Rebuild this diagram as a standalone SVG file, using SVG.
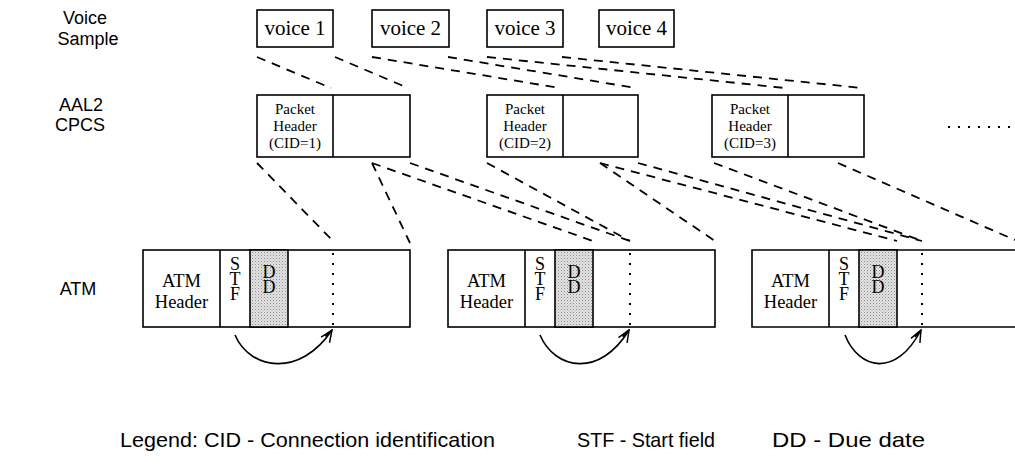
<svg xmlns="http://www.w3.org/2000/svg" width="1015" height="466" viewBox="0 0 1015 466">
  <defs>
    <pattern id="stipple" width="3" height="3" patternUnits="userSpaceOnUse">
      <rect width="3" height="3" fill="#e4e4e4"/>
      <rect x="0" y="0" width="1" height="1" fill="#8a8a8a"/>
      <rect x="1.5" y="1.5" width="1" height="1" fill="#a8a8a8"/>
    </pattern>
    <marker id="openhead" viewBox="0 0 14 12" refX="13" refY="6" markerWidth="14" markerHeight="12" markerUnits="userSpaceOnUse" orient="auto">
      <path d="M1,1 L13,6 L1,11 M4,4 L13,6" fill="none" stroke="#000" stroke-width="1.5"/>
    </marker>
  </defs>
  <style>
    .box { fill: #fff; stroke: #000; stroke-width: 1.6; }
    .div { stroke: #000; stroke-width: 1.6; fill: none; }
    .dd { fill: url(#stipple); stroke: #000; stroke-width: 1.6; }
    .dots { stroke: #000; stroke-width: 2; stroke-dasharray: 2 8; fill: none; }
    .dash { stroke: #000; stroke-width: 1.8; stroke-dasharray: 9 7; fill: none; }
    .arc { stroke: #000; stroke-width: 1.6; fill: none; }
    .lbl { font-family: "Liberation Sans", Arial, sans-serif; font-size: 18px; fill: #000; text-anchor: middle; }
    .leg { font-family: "Liberation Sans", Arial, sans-serif; font-size: 21px; fill: #000; }
    .vt { font-family: "Liberation Serif", "Times New Roman", serif; font-size: 21px; fill: #000; text-anchor: middle; }
    .pt { font-family: "Liberation Serif", "Times New Roman", serif; font-size: 15px; fill: #000; text-anchor: middle; }
    .at { font-family: "Liberation Serif", "Times New Roman", serif; font-size: 18.5px; fill: #000; text-anchor: middle; }
    /* stacked letters in the narrow STF and DD fields */
    .st { font-family: "Liberation Serif", "Times New Roman", serif; font-size: 18px; fill: #000;
          writing-mode: vertical-rl; text-orientation: upright; letter-spacing: -5px; }
  </style>

  <!-- row labels -->
  <g id="row-labels">
    <text class="lbl" x="85" y="24">Voice</text>
    <text class="lbl" x="88" y="45">Sample</text>
    <text class="lbl" x="81" y="111">AAL2</text>
    <text class="lbl" x="80" y="131">CPCS</text>
    <text class="lbl" x="78" y="295">ATM</text>
  </g>

  <!-- voice samples -->
  <g id="voice-1"><rect class="box" x="257" y="10" width="76" height="37"/><text class="vt" x="295" y="35">voice 1</text></g>
  <g id="voice-2"><rect class="box" x="372" y="10" width="77" height="37"/><text class="vt" x="410.5" y="35">voice 2</text></g>
  <g id="voice-3"><rect class="box" x="487" y="10" width="76" height="37"/><text class="vt" x="525" y="35">voice 3</text></g>
  <g id="voice-4"><rect class="box" x="599" y="10" width="75" height="37"/><text class="vt" x="636.5" y="35">voice 4</text></g>

  <!-- AAL2 CPCS packets -->
  <g id="packet-1">
    <rect class="box" x="257" y="95" width="153" height="62"/>
    <line class="div" x1="333" y1="95" x2="333" y2="157"/>
    <text class="pt" x="295" y="114">Packet</text>
    <text class="pt" x="295" y="131">Header</text>
    <text class="pt" x="295" y="148">(CID=1)</text>
  </g>
  <g id="packet-2">
    <rect class="box" x="487" y="95" width="151" height="62"/>
    <line class="div" x1="563" y1="95" x2="563" y2="157"/>
    <text class="pt" x="525" y="114">Packet</text>
    <text class="pt" x="525" y="131">Header</text>
    <text class="pt" x="525" y="148">(CID=2)</text>
  </g>
  <g id="packet-3">
    <rect class="box" x="712" y="95" width="152" height="62"/>
    <line class="div" x1="788" y1="95" x2="788" y2="157"/>
    <text class="pt" x="750" y="114">Packet</text>
    <text class="pt" x="750" y="131">Header</text>
    <text class="pt" x="750" y="148">(CID=3)</text>
  </g>
  <g id="more-packets">
    <line class="dots" x1="948" y1="127" x2="1015" y2="127"/>
  </g>

  <!-- ATM cells -->
  <g id="atm-cell-1">
    <rect class="box" x="143" y="250" width="267" height="77"/>
    <rect class="dd" x="250" y="250" width="38" height="77"/>
    <line class="div" x1="220" y1="250" x2="220" y2="327"/>
    <line class="dots" x1="333" y1="253" x2="333" y2="327"/>
    <text class="at" x="181.5" y="287">ATM<tspan x="181.5" dy="20.6">Header</tspan></text>
    <text class="st" x="235" y="254">STF</text>
    <text class="st" x="269" y="262">DD</text>
  </g>
  <g id="atm-cell-2">
    <rect class="box" x="448" y="250" width="267" height="77"/>
    <rect class="dd" x="555" y="250" width="38" height="77"/>
    <line class="div" x1="525" y1="250" x2="525" y2="327"/>
    <line class="dots" x1="630" y1="253" x2="630" y2="327"/>
    <text class="at" x="486.5" y="287">ATM<tspan x="486.5" dy="20.6">Header</tspan></text>
    <text class="st" x="540" y="254">STF</text>
    <text class="st" x="574" y="262">DD</text>
  </g>
  <g id="atm-cell-3">
    <path class="div" d="M1016,250 H752 V327 H1016"/>
    <rect class="dd" x="859" y="250" width="38" height="77"/>
    <line class="div" x1="829" y1="250" x2="829" y2="327"/>
    <line class="dots" x1="922" y1="253" x2="922" y2="327"/>
    <text class="at" x="790.5" y="287">ATM<tspan x="790.5" dy="20.6">Header</tspan></text>
    <text class="st" x="844" y="254">STF</text>
    <text class="st" x="878" y="262">DD</text>
  </g>

  <!-- connectors -->
  <g id="connectors">
    <!-- voice samples into packet payloads -->
    <line class="dash" x1="257" y1="57" x2="331" y2="88"/>
    <line class="dash" x1="335" y1="57" x2="408" y2="88"/>
    <line class="dash" x1="372" y1="57" x2="560" y2="88"/>
    <line class="dash" x1="448" y1="57" x2="636" y2="88"/>
    <line class="dash" x1="487" y1="57" x2="785" y2="88"/>
    <line class="dash" x1="562" y1="57" x2="862" y2="88"/>
    <!-- packets into ATM cell payloads -->
    <line class="dash" x1="257" y1="163" x2="333" y2="241"/>
    <line class="dash" x1="372" y1="163" x2="410" y2="243"/>
    <line class="dash" x1="372" y1="163" x2="593" y2="241"/>
    <line class="dash" x1="410" y1="163" x2="630" y2="241"/>
    <line class="dash" x1="487" y1="163" x2="630" y2="241"/>
    <line class="dash" x1="600" y1="163" x2="715" y2="241"/>
    <line class="dash" x1="600" y1="163" x2="897" y2="241"/>
    <line class="dash" x1="638" y1="163" x2="922" y2="241"/>
    <line class="dash" x1="714" y1="163" x2="922" y2="241"/>
    <line class="dash" x1="838" y1="163" x2="1015" y2="240"/>
    <!-- start field pointers -->
    <path class="arc" d="M235,335 C250,370 300,378 332,330" marker-end="url(#openhead)"/>
    <path class="arc" d="M540,335 C555,370 600,378 629,330" marker-end="url(#openhead)"/>
    <path class="arc" d="M845,335 C859,370 896,378 921,330" marker-end="url(#openhead)"/>
  </g>

  <!-- legend -->
  <g id="legend">
    <text class="leg" x="120" y="447" textLength="375" lengthAdjust="spacingAndGlyphs">Legend:  CID - Connection identification</text>
    <text class="leg" x="577" y="447" textLength="138" lengthAdjust="spacingAndGlyphs">STF - Start field</text>
    <text class="leg" x="772" y="447" textLength="153" lengthAdjust="spacingAndGlyphs">DD - Due date</text>
  </g>
</svg>
